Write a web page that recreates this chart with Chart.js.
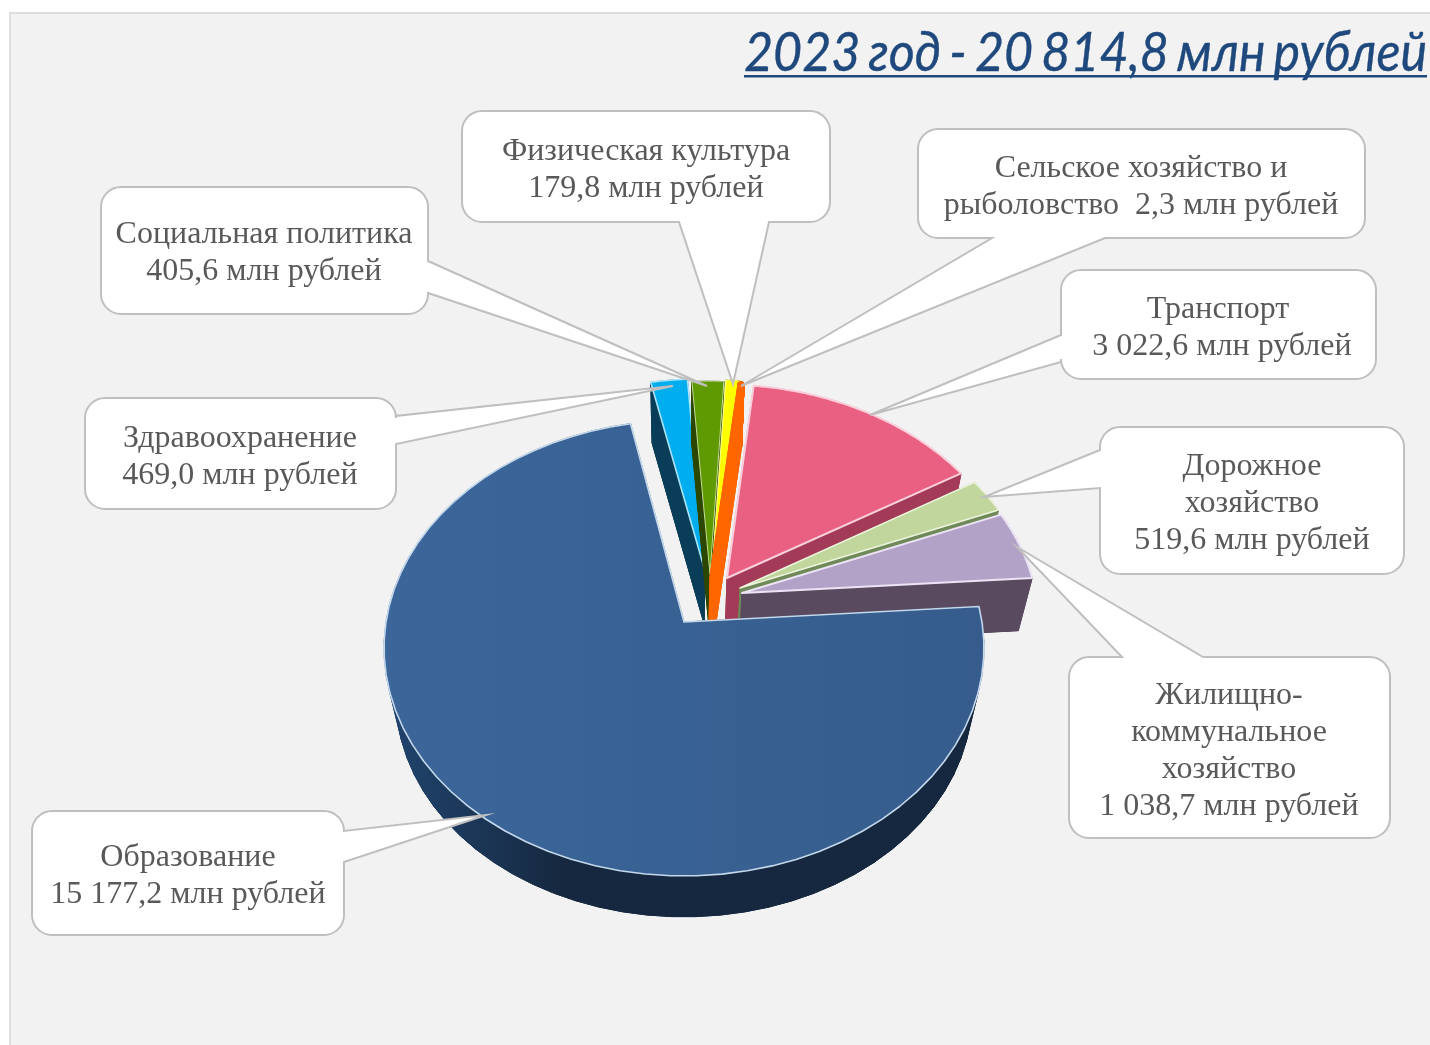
<!DOCTYPE html>
<html lang="ru"><head><meta charset="utf-8">
<style>html,body{margin:0;padding:0;background:#fff;width:1430px;height:1045px;overflow:hidden}
#w{position:absolute;left:0;top:0;width:1430px;height:1045px}</style>
<script src="https://cdn.jsdelivr.net/npm/chart.js@4"></script></head>
<body><div id="w"><canvas id="c" width="1430" height="1045"></canvas></div>
<script>
const titleText = "2023 год - 20 814,8 млн рублей";
const categories = ["Образование","Здравоохранение","Социальная политика","Физическая культура","Сельское хозяйство и рыболовство","Транспорт","Дорожное хозяйство","Жилищно-коммунальное хозяйство"];
const values = [15177.2,469.0,405.6,179.8,2.3,3022.6,519.6,1038.7];
const topColors = ["#38608f","#00aeef","#5f9a02","#ffff00","#ff6600","#ea6082","#c1d69c","#b3a2c7"];
const sideColors = ["#16283f","#0a3d58","#2c4700","#a0a000","#ff6600","#a33b58","#6f8a58","#5a4a60"];
const edgeColors = ["#c4d8ec","#a8e4fb","#c6dc9a","#ffffa0","#ff6600","#fbd0dc","#eef5df","#ece4f4"];
const edgeWidths = [1.6,1.6,1,1,7,2,1.4,2];
const apexes = [[684,622],[705,571],[710,574],[712,572],[713,577],[727,578],[740,588],[742,593]];
const drawOrder = [1,2,3,5,6,7,4,0];
const calloutLines = [
 ["Образование","15 177,2 млн рублей"],
 ["Здравоохранение","469,0 млн рублей"],
 ["Социальная политика","405,6 млн рублей"],
 ["Физическая культура","179,8 млн рублей"],
 ["Сельское хозяйство и","рыболовство  2,3 млн рублей"],
 ["Транспорт","3 022,6 млн рублей"],
 ["Дорожное","хозяйство","519,6 млн рублей"],
 ["Жилищно-","коммунальное","хозяйство","1 038,7 млн рублей"]
];
const calloutBoxes = [
 {b:[32,811,344,935],side:"r",p:[831,862],tip:[486,815],cx:188,y:858},
 {b:[85,398,396,509],side:"r",p:[416,444],tip:[673,386],cx:240,y:439},
 {b:[101,187,428,314],side:"r",p:[261,293],tip:[707,386],cx:264,y:235},
 {b:[462,111,830,222],side:"b",p:[679,769],tip:[733,384],cx:646,y:152},
 {b:[918,129,1365,238],side:"b",p:[992,1105],tip:[741,386],cx:1141,y:169},
 {b:[1061,270,1376,379],side:"l",p:[335,362],tip:[870,415],cx:1218,y:310,dx:[0,4]},
 {b:[1100,427,1404,574],side:"l",p:[450,488],tip:[984,497],cx:1252,y:467},
 {b:[1069,657,1390,838],side:"t",p:[1122,1203],tip:[1017,547],cx:1229,y:696}
];
const R=298, KY=225/298, C=0.114, SCALE=0.96, DROP=51, STEPS=60;
function project(o,x,y){const w=1-C*y/R;return [o[0]+x/w,o[1]+KY*y/w];}
function unproject(o,p){const dX=p[0]-o[0],dY=p[1]-o[1];const y=dY/(KY+C*dY/R);return [dX*(1-C*y/R),y];}
function lower(o,p){return [o[0]+(p[0]-o[0])*SCALE,o[1]+(p[1]-o[1])*SCALE+DROP];}
function poly(ctx,pts){ctx.beginPath();pts.forEach((p,i)=>i?ctx.lineTo(p[0],p[1]):ctx.moveTo(p[0],p[1]));ctx.closePath();}
const pie3d={id:"pie3d",
 beforeDatasetDraw(chart,args){
  const ctx=chart.ctx, meta=args.meta;
  drawOrder.forEach(i=>{
   const el=meta.data[i],o=[el.x,el.y],a0=el.startAngle+Math.PI/2,a1=el.endAngle+Math.PI/2;
   const s=unproject(o,apexes[i]),pts=[[s[0],s[1]]];
   for(let k=0;k<=STEPS;k++){const a=a0+(a1-a0)*k/STEPS;pts.push([s[0]+el.outerRadius*Math.sin(a),s[1]-el.outerRadius*Math.cos(a)]);}
   const top=pts.map(p=>project(o,p[0],p[1])),bot=top.map(p=>lower(o,p));
   ctx.save();ctx.lineJoin="round";
   let side=sideColors[i];
   if(i===0){const g=ctx.createLinearGradient(384,0,985,0);g.addColorStop(0,"#21456f");g.addColorStop(0.3,"#16283f");g.addColorStop(1,"#16283f");side=g;}
   ctx.fillStyle=side;ctx.strokeStyle=side;ctx.lineWidth=i===4?7:1;
   poly(ctx,bot);ctx.fill();ctx.stroke();
   for(let k=0;k<top.length;k++){const n=(k+1)%top.length;poly(ctx,[top[k],top[n],bot[n],bot[k]]);ctx.fill();ctx.stroke();}
   let fill=el.options.backgroundColor;
   if(i===0){const g=ctx.createLinearGradient(384,0,985,0);g.addColorStop(0,"#3c669a");g.addColorStop(1,"#355c8c");fill=g;}
   poly(ctx,top);ctx.fillStyle=fill;ctx.fill();
   ctx.strokeStyle=el.options.borderColor;ctx.lineWidth=el.options.borderWidth;ctx.stroke();
   ctx.restore();
  });
  return false;
 },
 beforeDraw(chart){
  const ctx=chart.ctx;ctx.save();
  ctx.fillStyle="#fff";ctx.fillRect(0,0,1430,1045);
  ctx.fillStyle="#f2f2f2";ctx.fillRect(10,12,1420,1033);
  ctx.strokeStyle="#dedede";ctx.lineWidth=2;ctx.beginPath();ctx.moveTo(10,1045);ctx.lineTo(10,13);ctx.lineTo(1430,13);ctx.stroke();
  ctx.font="italic 54px Lato, Carlito";ctx.wordSpacing="-4px";ctx.textAlign="left";ctx.textBaseline="alphabetic";ctx.fillStyle="#1f497d";ctx.strokeStyle="#1f497d";ctx.lineWidth=0.4;
  const tw=ctx.measureText(titleText).width;
  ctx.save();ctx.translate(744,71);ctx.scale(683/tw,1);ctx.fillText(titleText,0,0);ctx.strokeText(titleText,0,0);ctx.restore();
  ctx.wordSpacing="0px";
  ctx.fillRect(744,75,683,2.5);
  ctx.restore();
 },
 afterDraw(chart){
  const ctx=chart.ctx;ctx.save();
  calloutBoxes.forEach((c,i)=>{
   const [x1,y1,x2,y2]=c.b,r=20,t=c.tip,p=c.p;
   ctx.beginPath();ctx.moveTo(x1+r,y1);
   if(c.side==="t"){ctx.lineTo(p[0],y1);ctx.lineTo(t[0],t[1]);ctx.lineTo(p[1],y1);}
   ctx.lineTo(x2-r,y1);ctx.arcTo(x2,y1,x2,y1+r,r);
   if(c.side==="r"){ctx.lineTo(x2,p[0]);ctx.lineTo(t[0],t[1]);ctx.lineTo(x2,p[1]);}
   ctx.lineTo(x2,y2-r);ctx.arcTo(x2,y2,x2-r,y2,r);
   if(c.side==="b"){ctx.lineTo(p[1],y2);ctx.lineTo(t[0],t[1]);ctx.lineTo(p[0],y2);}
   ctx.lineTo(x1+r,y2);ctx.arcTo(x1,y2,x1,y2-r,r);
   if(c.side==="l"){ctx.lineTo(x1,p[1]);ctx.lineTo(t[0],t[1]);ctx.lineTo(x1,p[0]);}
   ctx.lineTo(x1,y1+r);ctx.arcTo(x1,y1,x1+r,y1,r);ctx.closePath();
   ctx.fillStyle="#fff";ctx.fill();ctx.strokeStyle="#bfbfbf";ctx.lineWidth=2;ctx.stroke();
   ctx.fillStyle="#595959";ctx.font="32px 'Liberation Serif'";ctx.textAlign="center";ctx.textBaseline="middle";
   calloutLines[i].forEach((l,j)=>ctx.fillText(l,c.cx+(c.dx?c.dx[j]:0),c.y+j*36.8));
  });
  ctx.restore();
 }
};
new Chart(document.getElementById("c"),{
 type:"pie",
 data:{labels:categories,datasets:[{data:values,backgroundColor:topColors,borderColor:edgeColors,borderWidth:edgeWidths}]},
 options:{responsive:false,animation:false,radius:R,rotation:86,
  layout:{padding:{left:0,right:62,top:199,bottom:0}},
  plugins:{legend:{display:false},tooltip:{enabled:false},title:{display:false}}},
 plugins:[pie3d]
});
</script></body></html>
